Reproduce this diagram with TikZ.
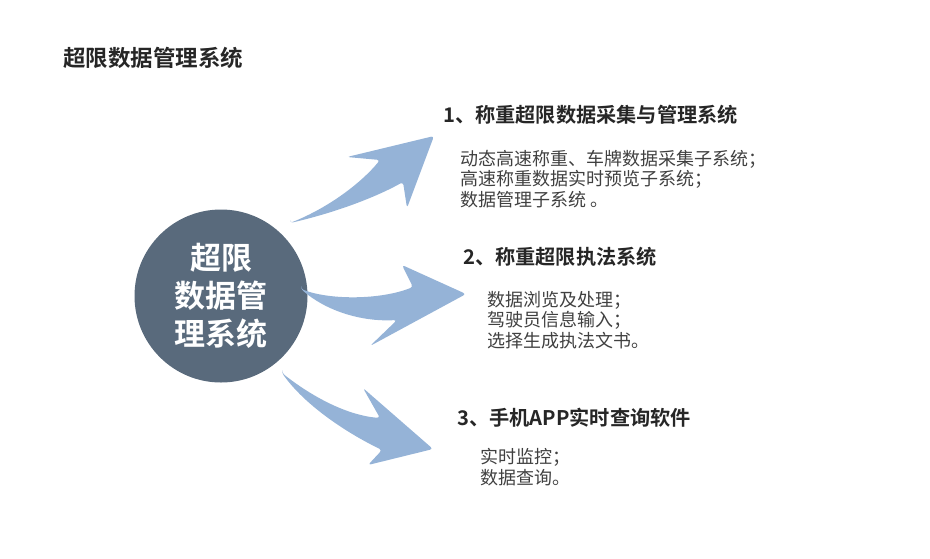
\documentclass[tikz,border=0pt]{standalone}
\usepackage{fontspec}
\setmainfont{Noto Sans CJK SC}[BoldFont={Noto Sans CJK SC Bold}]
\definecolor{circ}{RGB}{89,106,124}
\definecolor{arrc}{RGB}{149,179,215}
\definecolor{headc}{RGB}{38,38,38}
\definecolor{bodyc}{RGB}{64,64,64}

\begin{document}
\begin{tikzpicture}[x=1pt, y=-1pt,
    main/.style = {circle, fill=circ, minimum size=173pt, inner sep=0pt, text=white, align=center, font=\bfseries\fontsize{31}{38}\selectfont},
    ttl/.style = {anchor=west, inner sep=0pt, text=headc, font=\bfseries\fontsize{22.5}{26}\selectfont},
    head/.style = {anchor=west, inner sep=0pt, text=headc, font=\bfseries\fontsize{20.2}{24}\selectfont},
    body/.style = {anchor=west, inner sep=0pt, text=bodyc, align=left, font=\fontsize{18}{20.5}\selectfont},
    arr/.style = {fill=arrc, rounded corners=3pt}]
    \useasboundingbox (0,0) rectangle (930,558);

    \node[ttl] (ttl) at (63,58) {超限数据管理系统};
    \node[main] (sys) at (221,296) {超限\\数据管\\理系统};

    \fill[arr] (290,223) .. controls (330,207) and (362,182) .. (380,160) -- (347,157) -- (434,136) -- (407,208) -- (403,182) .. controls (378,196) and (338,212) .. cycle;
    \fill[arr] (301,289) .. controls (330,300) and (380,300) .. (413,287) -- (402,265) -- (466,294) -- (370,346) -- (397,320) .. controls (360,322) and (325,310) .. cycle;
    \fill[arr] (282,373) .. controls (310,395) and (345,415) .. (380,418) -- (363,388) -- (433,449) -- (368,465) -- (382,450) .. controls (345,432) and (305,405) .. cycle;

    \node[head] (h1) at (443,115) {1、称重超限数据采集与管理系统};
    \node[head] (h2) at (463,257) {2、称重超限执法系统};
    \node[head] (h3) at (457,418) {3、手机APP实时查询软件};

    \node[body] (b1) at (460,179) {动态高速称重、车牌数据采集子系统；\\高速称重数据实时预览子系统；\\数据管理子系统 。};
    \node[body] (b2) at (487,320) {数据浏览及处理；\\驾驶员信息输入；\\选择生成执法文书。};
    \node[body] (b3) at (480,467) {实时监控；\\数据查询。};
\end{tikzpicture}
\end{document}
